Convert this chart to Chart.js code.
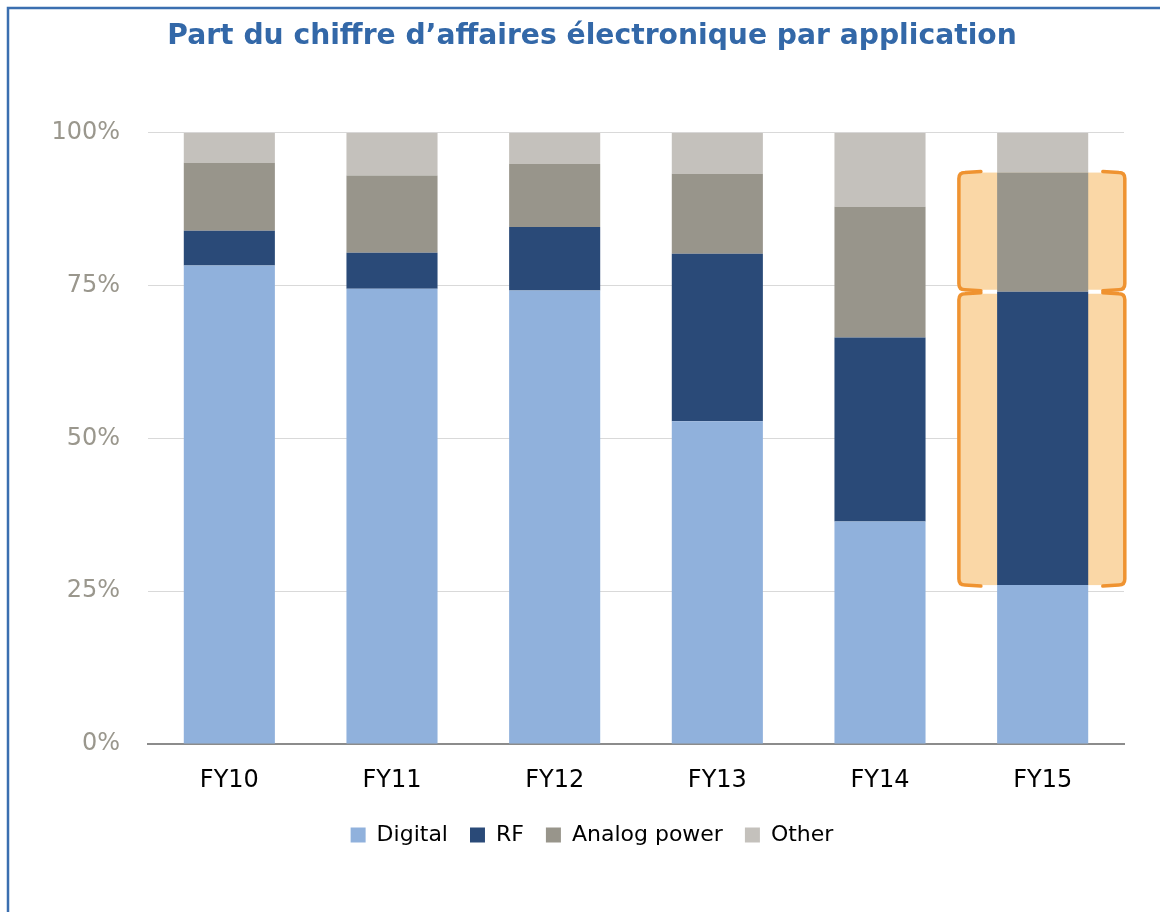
<!DOCTYPE html>
<html>
<head>
<meta charset="utf-8">
<title>Part du chiffre d'affaires électronique par application</title>
<script src="https://cdn.jsdelivr.net/npm/chart.js@4.4.1/dist/chart.umd.min.js"></script>
<style>
  html, body { margin: 0; padding: 0; background: #fff; overflow: hidden; }
  #box { width: 1160px; height: 912px; }
</style>
</head>
<body>
<div id="box"><canvas id="chart" width="1160" height="912"></canvas></div>
<script>
// valeurs (en % du CA)
const categories = ['FY10', 'FY11', 'FY12', 'FY13', 'FY14', 'FY15'];
const digital = [78.3, 74.5, 74.2, 52.8, 36.4, 26.0];
const rf = [5.7, 5.9, 10.4, 27.4, 30.1, 48.0];
const analogPower = [11.1, 12.6, 10.3, 13.1, 21.4, 19.5];
const other = [4.9, 7.0, 5.1, 6.7, 12.1, 6.5];
const yTicks = [0, 25, 50, 75, 100];
const highlightIndex = 5; // FY15 encadré en orange

// cadre bleu en haut et à gauche
const frame = {
    id: 'frame',
    beforeDraw(chart) {
        const ctx = chart.ctx;
        ctx.save();
        ctx.fillStyle = '#fff';
        ctx.fillRect(0, 0, chart.width, chart.height);
        ctx.strokeStyle = '#3b6fb0';
        ctx.lineWidth = 2.5;
        ctx.beginPath();
        ctx.moveTo(8, chart.height);
        ctx.lineTo(8, 8);
        ctx.lineTo(chart.width, 8);
        ctx.stroke();
        ctx.restore();
    }
};

// titre et légende un peu décalés vers la droite, comme dans l'original
const shiftBlocks = {
    id: 'shiftBlocks',
    afterLayout(chart) {
        chart.titleBlock.left = 60;
        chart.legend.left = 60;
    }
};

// zones orange derrière la barre FY15
const highlight = {
    id: 'highlight',
    beforeDatasetsDraw(chart) {
        const { ctx, scales: { x, y } } = chart;
        const i = highlightIndex;
        const step = x.getPixelForValue(1) - x.getPixelForValue(0);
        const cx = x.getPixelForValue(i);
        const left = cx - step * 0.515;
        const right = cx + step * 0.505;
        const d = digital[i], r = d + rf[i], a = r + analogPower[i];
        const boxes = [
            [y.getPixelForValue(a), y.getPixelForValue(r) - 2],
            [y.getPixelForValue(r) + 2, y.getPixelForValue(d)]
        ];
        ctx.save();
        boxes.forEach(([top, bottom]) => {
            ctx.fillStyle = '#fad7a6';
            ctx.fillRect(left, top, right - left, bottom - top);
            ctx.strokeStyle = '#ef9331';
            ctx.lineWidth = 3.5;
            ctx.lineCap = 'round';
            ctx.beginPath();
            ctx.moveTo(left + 22, top - 1);
            ctx.lineTo(left + 6, top);
            ctx.quadraticCurveTo(left, top, left, top + 6);
            ctx.lineTo(left, bottom - 6);
            ctx.quadraticCurveTo(left, bottom, left + 6, bottom);
            ctx.lineTo(left + 22, bottom + 1);
            ctx.stroke();
            ctx.beginPath();
            ctx.moveTo(right - 22, top - 1);
            ctx.lineTo(right - 6, top);
            ctx.quadraticCurveTo(right, top, right, top + 6);
            ctx.lineTo(right, bottom - 6);
            ctx.quadraticCurveTo(right, bottom, right - 6, bottom);
            ctx.lineTo(right - 22, bottom + 1);
            ctx.stroke();
        });
        ctx.restore();
    }
};

function series(label, data, color) {
    return {
        label: label,
        data: data,
        backgroundColor: color,
        borderWidth: 0,
        categoryPercentage: 1,
        barPercentage: 0.56
    };
}

const ctx = document.getElementById('chart').getContext('2d');
new Chart(ctx, {
    type: 'bar',
    data: {
        labels: categories,
        datasets: [
            series('Digital', digital, '#90b1dc'),
            series('RF', rf, '#2a4a78'),
            series('Analog power', analogPower, '#98958b'),
            series('Other', other, '#c4c1bc')
        ]
    },
    plugins: [frame, shiftBlocks, highlight],
    options: {
        responsive: false,
        animation: false,
        layout: { padding: { left: 0, right: 36, top: 0, bottom: 56 } },
        plugins: {
            title: {
                display: true,
                text: 'Part du chiffre d’affaires électronique par application',
                color: '#3368a8',
                font: { family: 'DejaVu Sans', size: 28.2, weight: 'bold' },
                padding: { top: 20, bottom: 79 }
            },
            legend: {
                position: 'bottom',
                labels: {
                    boxWidth: 15,
                    boxHeight: 15,
                    padding: 22,
                    color: '#000',
                    font: { family: 'DejaVu Sans', size: 22 }
                }
            },
            tooltip: { enabled: false }
        },
        scales: {
            x: {
                stacked: true,
                grid: { display: false, drawTicks: false },
                border: { color: '#8c8c8c', width: 2 },
                ticks: {
                    color: '#000',
                    padding: 22,
                    font: { family: 'DejaVu Sans', size: 24 }
                },
                afterFit(scale) { scale.height = 58; }
            },
            y: {
                stacked: true,
                min: 0,
                max: 100,
                grid: { color: '#d9d9d9', lineWidth: 1, drawTicks: false },
                border: { display: false },
                afterBuildTicks(scale) { scale.ticks = yTicks.map(v => ({ value: v })); },
                ticks: {
                    color: '#9a978d',
                    padding: 28,
                    font: { family: 'DejaVu Sans', size: 24 },
                    callback: v => v + '%'
                },
                afterFit(scale) { scale.width = 148; }
            }
        }
    }
});
</script>
</body>
</html>
